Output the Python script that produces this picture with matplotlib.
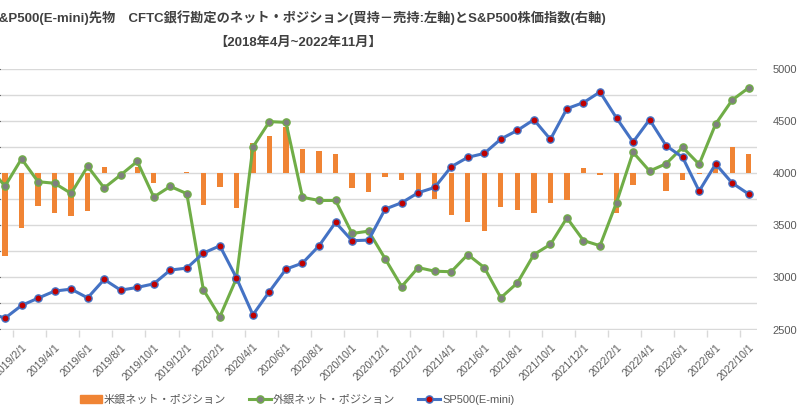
import numpy as np
import pandas as pd
import matplotlib
matplotlib.use("Agg")
import matplotlib.pyplot as plt
from matplotlib.lines import Line2D
from matplotlib.patches import Patch

plt.rcParams["font.family"] = ["Liberation Sans", "Noto Sans CJK JP", "DejaVu Sans"]

# 月次データ (2018/12 〜 2022/10), 左軸は枚数, 右軸は指数
months = [f"{d.year}/{d.month}/1" for d in pd.date_range("2018-12-01", periods=47, freq="MS")]

us_bank = [np.nan, -31700, -21000, -12400, -15400, -16300, -14400, 2600, 0, 2600,
           -3600, 300, 500, -12100, -5300, -13200, 11500, 14400, 17900, 9400,
           8700, 7600, -5500, -7100, -1500, -2400, -9000, -10000, -15900, -18600,
           -22100, -13100, -14100, -15300, -11300, -10100, 2100, -800, -15300, -4600,
           0, -6800, -2600, -300, 2600, 10000, 7300]

foreign_bank = [2700, -4900, 5600, -3200, -3800, -7700, 2700, -5600, -600, 4600,
                -9100, -5000, -7800, -44700, -55100, -40400, 10100, 19900, 19600, -9200,
                -10400, -10400, -23100, -22200, -32800, -43500, -36200, -37600, -37800, -31200,
                -36200, -47800, -42100, -31200, -27300, -17100, -25800, -27800, -11200, 8100,
                900, 3700, 10000, 3500, 19000, 28200, 32900]

sp500 = [2662, 2609, 2731, 2801, 2869, 2888, 2804, 2981, 2878, 2904,
         2939, 3071, 3090, 3234, 3304, 2997, 2641, 2865, 3080, 3138,
         3304, 3529, 3353, 3359, 3657, 3718, 3814, 3865, 4064, 4154,
         4192, 4330, 4413, 4516, 4327, 4622, 4680, 4782, 4532, 4301,
         4516, 4266, 4154, 3830, 4090, 3907, 3801]

ORANGE = "#F08434"
GREEN = "#70AD47"
BLUE = "#4472C4"
GRID = "#D9D9D9"
TXT = "#595959"

W, H = 800, 419
fig = plt.figure(figsize=(W / 100, H / 100), dpi=100)
# 左側は元画像で切れているので、プロット領域を図の左端から始める
ax = fig.add_axes([0, 1 - 329.5 / H, 757 / W, (329.5 - 69.3) / H])
x = np.arange(len(months))

ax.bar(x, us_bank, width=0.32, color=ORANGE, zorder=2)
ax.plot(x, foreign_bank, color=GREEN, lw=2.2, marker="o", ms=5.2,
        mfc="#7F7F7F", mec=GREEN, mew=1, zorder=3)
ax.set_ylim(-60000, 40000)
ax.set_yticks(np.arange(-60000, 40001, 10000))
ax.grid(axis="y", color=GRID, lw=1, zorder=0)
ax.tick_params(axis="y", left=False, labelleft=False)

even = x[::2]
ax.set_xticks(even)
ax.set_xticklabels([months[i] for i in even], rotation=45, ha="right",
                   rotation_mode="anchor", fontsize=7.6, color=TXT)
ax.tick_params(axis="x", which="major", length=0, pad=9)
ax.set_xticks(even - 0.5, minor=True)
ax.tick_params(axis="x", which="minor", length=5, color=GRID, width=1)
for s in ax.spines.values():
    s.set_visible(False)

ax2 = ax.twinx()
ax2.plot(x, sp500, color=BLUE, lw=2.2, marker="o", ms=5.2,
         mfc="#C00000", mec=BLUE, mew=1, zorder=4)
ax2.set_ylim(2500, 5000)
ax2.set_yticks(np.arange(2500, 5001, 500))
ax2.tick_params(axis="y", length=0, pad=11, labelsize=8, labelcolor=TXT)
for s in ax2.spines.values():
    s.set_visible(False)

# twinx の plot で x 範囲が再計算されるので最後に設定
ax.set_xlim(11.5 / 16.5, 46.5)

fig.text(298 / W, 1 - 18 / H,
         "S&P500(E-mini)先物　CFTC銀行勘定のネット・ポジション(買持－売持:左軸)とS&P500株価指数(右軸)",
         ha="center", va="center", fontsize=9.5, fontweight="bold", color="#404040")
fig.text(298 / W, 1 - 43 / H, "【2018年4月~2022年11月】",
         ha="center", va="center", fontsize=9.5, fontweight="bold", color="#404040")

handles = [
    Patch(color=ORANGE),
    Line2D([], [], color=GREEN, lw=2.2, marker="o", ms=5.2, mfc="#7F7F7F", mec=GREEN),
    Line2D([], [], color=BLUE, lw=2.2, marker="o", ms=5.2, mfc="#C00000", mec=BLUE),
]
labels = ["米銀ネット・ポジション", "外銀ネット・ポジション", "SP500(E-mini)"]
fig.legend(handles, labels, loc="center", bbox_to_anchor=(297 / W, 1 - 400 / H),
           ncol=3, frameon=False, fontsize=8, labelcolor=TXT,
           handlelength=2.0, handletextpad=0.2, columnspacing=2.0)

fig.savefig("out.png", dpi=100)
